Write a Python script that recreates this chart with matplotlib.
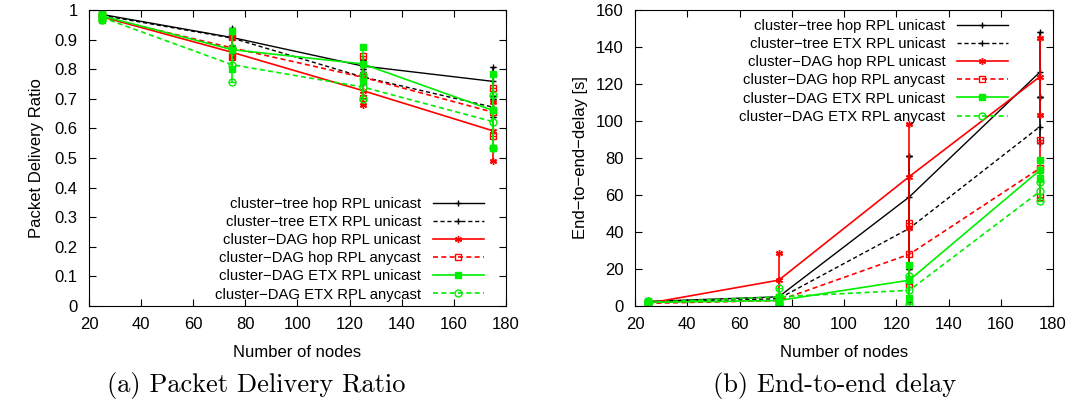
import matplotlib
matplotlib.use("Agg")
import matplotlib.pyplot as plt

plt.rcParams["font.family"] = ["Liberation Sans", "DejaVu Sans"]

nodes = [25, 75, 125, 175]

labels = [
    "cluster\u2212tree hop RPL unicast",
    "cluster\u2212tree ETX RPL unicast",
    "cluster\u2212DAG hop RPL unicast",
    "cluster\u2212DAG hop RPL anycast",
    "cluster\u2212DAG ETX RPL unicast",
    "cluster\u2212DAG ETX RPL anycast",
]

# packet delivery ratio: mean, low, high
pdr_mean = [
    [0.985, 0.907, 0.811, 0.759],
    [0.982, 0.905, 0.774, 0.672],
    [0.977, 0.857, 0.728, 0.592],
    [0.976, 0.872, 0.773, 0.655],
    [0.980, 0.866, 0.818, 0.661],
    [0.975, 0.815, 0.740, 0.623],
]
pdr_low = [
    [0.980, 0.880, 0.790, 0.710],
    [0.975, 0.875, 0.750, 0.640],
    [0.970, 0.840, 0.678, 0.490],
    [0.970, 0.840, 0.703, 0.575],
    [0.965, 0.800, 0.760, 0.535],
    [0.965, 0.757, 0.700, 0.535],
]
pdr_high = [
    [0.990, 0.940, 0.830, 0.808],
    [0.990, 0.930, 0.800, 0.700],
    [0.985, 0.910, 0.770, 0.690],
    [0.985, 0.910, 0.845, 0.735],
    [0.990, 0.930, 0.875, 0.785],
    [0.985, 0.870, 0.780, 0.713],
]

# end-to-end delay [s]: mean, low, high
delay_mean = [
    [2.5, 5.0, 59.0, 126.5],
    [2.0, 4.0, 42.0, 97.0],
    [1.5, 14.0, 70.0, 124.0],
    [1.5, 3.0, 28.0, 74.5],
    [2.0, 3.0, 14.0, 73.5],
    [2.0, 5.0, 8.5, 62.0],
]
delay_low = [
    [1.5, 2.0, 20.0, 113.0],
    [1.0, 1.0, 2.0, 88.0],
    [1.0, 0.0, 42.0, 103.0],
    [1.0, 1.0, 12.0, 59.0],
    [1.0, 1.0, 4.5, 69.0],
    [1.0, 0.5, 1.0, 57.0],
]
delay_high = [
    [3.5, 6.0, 81.0, 148.0],
    [3.0, 6.0, 81.0, 113.0],
    [2.0, 28.5, 98.5, 145.0],
    [2.0, 5.0, 45.0, 90.0],
    [3.0, 5.0, 22.0, 79.0],
    [3.0, 9.5, 16.5, 67.0],
]

dash = (0, (3, 2))
styles = [
    dict(color="black", ls="-", marker="+", mfc="black", ms=5, lw=1.0),
    dict(color="black", ls=dash, marker="+", mfc="black", ms=5, lw=1.0),
    dict(color="#ff0000", ls="-", marker=(6, 2, 0), mfc="#ff0000", ms=5, lw=1.2),
    dict(color="#ff0000", ls=dash, marker="s", mfc="none", ms=5, lw=1.2),
    dict(color="#00ee00", ls="-", marker="s", mfc="#00ee00", ms=5, lw=1.2),
    dict(color="#00ee00", ls=dash, marker="o", mfc="none", ms=5, lw=1.2),
]


def draw(ax, means, lows, highs):
    for m, lo, hi, lab, st in zip(means, lows, highs, labels, styles):
        err = [[a - b for a, b in zip(m, lo)], [b - a for a, b in zip(m, hi)]]
        ax.errorbar(nodes, m, yerr=err, fmt="none", ecolor=st["color"],
                    capsize=2.5, elinewidth=1.2)
        ax.plot(nodes, m, label=lab, mec=st["color"], **st)
        # markers at error ends like gnuplot
        for ends in (lo, hi):
            ax.plot(nodes, ends, ls="none", marker=st["marker"], ms=st["ms"],
                    mfc=st["mfc"], mec=st["color"], color=st["color"])
    ax.set_xlim(20, 180)
    ax.set_xticks(range(20, 181, 20))
    ax.tick_params(direction="in", top=True, right=True, length=5,
                   labelsize=12, pad=8)
    ax.set_xlabel("Number of nodes", fontsize=12, labelpad=9)


fig = plt.figure(figsize=(10.73, 4.17), dpi=100)
ax1 = fig.add_axes([0.0829, 0.266, 0.3886, 0.710])
ax2 = fig.add_axes([0.5918, 0.266, 0.3896, 0.710])

draw(ax1, pdr_mean, pdr_low, pdr_high)
ax1.set_ylim(0, 1)
ax1.set_yticks([i / 10 for i in range(11)])
ax1.set_yticklabels(["0"] + ["%.1f" % (i / 10) for i in range(1, 10)] + ["1"])
ax1.set_ylabel("Packet Delivery Ratio", fontsize=12, labelpad=8)
ax1.legend(loc="lower right", bbox_to_anchor=(0.975, -0.025), frameon=False,
           markerfirst=False, fontsize=10.7, handlelength=3.4,
           handletextpad=0.8, labelspacing=0.28, borderpad=0.3)

draw(ax2, delay_mean, delay_low, delay_high)
ax2.set_ylim(0, 160)
ax2.set_yticks(range(0, 161, 20))
ax2.set_ylabel("End\u2212to\u2212end\u2212delay [s]", fontsize=12, labelpad=6)
ax2.legend(loc="upper right", bbox_to_anchor=(0.92, 1.01), frameon=False,
           markerfirst=False, fontsize=10.7, handlelength=3.4,
           handletextpad=0.8, labelspacing=0.28, borderpad=0.3)

fig.text(0.239, 0.075, "(a) Packet Delivery Ratio", family="cmr10",
         fontsize=19, ha="center", va="center")
fig.text(0.778, 0.075, "(b) End-to-end delay", family="cmr10",
         fontsize=19, ha="center", va="center")

fig.savefig("out.png", dpi=100)
